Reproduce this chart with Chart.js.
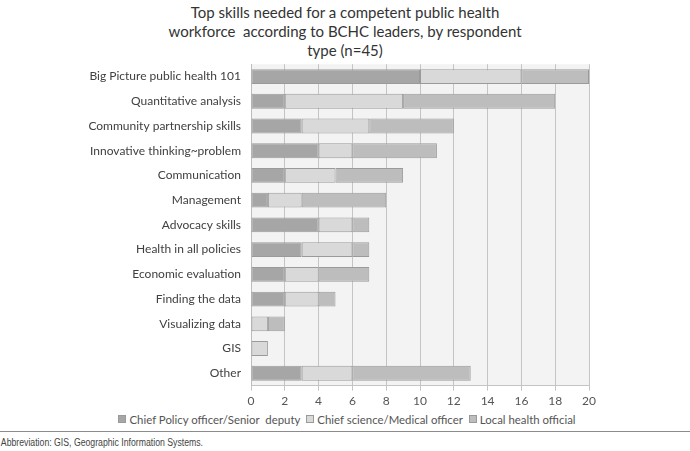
<!DOCTYPE html>
<html lang="en">
<head>
    <meta charset="UTF-8">
    <title>Top skills needed for a competent public health workforce</title>
    <script src="https://cdn.jsdelivr.net/npm/chart.js"></script>
    <style>
        body { margin: 0; background: #fff; width: 690px; height: 451px; overflow: hidden; font-family: Lato, sans-serif; }
        .title {
            height: 60px; padding-top: 3px; box-sizing: border-box;
            text-align: center; font-size: 15px; line-height: 19px; color: #333;
        }
        .chart-box { position: relative; width: 690px; height: 364px; margin-top: -13px; }
        .legend {
            height: 20px; padding-bottom: 4px; display: flex; justify-content: center; align-items: center;
            font-size: 11.4px; color: #555; padding-left: 4px; box-sizing: border-box;
        }
        .legend span.item { display: flex; align-items: center; margin: 0 3px; }
        .legend i { display: inline-block; width: 6px; height: 6px; margin-right: 3px; border: 1px solid #9a9a9a; }
        .rule { border-top: 1px solid #8c8c8c; width: 690px; }
        .note {
            font-family: "Liberation Sans", sans-serif; font-size: 10px; color: #444;
            padding: 5px 0 0 1px; transform: scaleX(0.87); transform-origin: left;
            white-space: nowrap;
        }
    </style>
</head>
<body>
    <div class="title">Top skills needed for a competent public health<br>workforce&nbsp; according to BCHC leaders, by respondent<br>type (n=45)</div>
    <div class="chart-box"><canvas id="skillsChart"></canvas></div>
    <div class="legend" id="legend"></div>
    <div class="rule"></div>
    <div class="note">Abbreviation: GIS, Geographic Information Systems.</div>

    <script>
        const skills = [
            'Big Picture public health 101', 'Quantitative analysis', 'Community partnership skills',
            'Innovative thinking~problem', 'Communication', 'Management', 'Advocacy skills',
            'Health in all policies', 'Economic evaluation', 'Finding the data', 'Visualizing data',
            'GIS', 'Other'
        ];
        const chiefPolicy = [10, 2, 3, 4, 2, 1, 4, 3, 2, 2, 0, 0, 3];
        const chiefScience = [6, 7, 4, 2, 3, 2, 2, 3, 2, 2, 1, 1, 3];
        const localOfficial = [4, 9, 5, 5, 4, 5, 1, 1, 3, 1, 1, 0, 7];
        const xTicks = [0, 2, 4, 6, 8, 10, 12, 14, 16, 18, 20];

        // fond gris de la zone de tracé
        const plotBg = {
            id: 'plotBg',
            beforeDraw(chart) {
                const { ctx, chartArea: a } = chart;
                ctx.save();
                ctx.fillStyle = '#f3f3f3';
                ctx.fillRect(a.left, a.top, a.right - a.left, a.bottom - a.top);
                ctx.restore();
            }
        };

        const ds = (label, data, color) => ({
            label, data,
            backgroundColor: color,
            borderColor: '#9a9a9a',
            borderWidth: 1,
            borderSkipped: false,
            barPercentage: 0.6,
            categoryPercentage: 1
        });

        const chart = new Chart(document.getElementById('skillsChart'), {
            type: 'bar',
            data: {
                labels: skills,
                datasets: [
                    ds('Chief Policy officer/Senior  deputy', chiefPolicy, '#a6a6a6'),
                    ds('Chief science/Medical officer', chiefScience, '#d9d9d9'),
                    ds('Local health official', localOfficial, '#bdbdbd')
                ]
            },
            options: {
                indexAxis: 'y',
                responsive: true,
                maintainAspectRatio: false,
                animation: false,
                layout: { padding: { left: 0, right: 101, top: 7, bottom: 0 } },
                plugins: {
                    legend: { display: false },
                    tooltip: { enabled: false }
                },
                scales: {
                    x: {
                        stacked: true,
                        min: xTicks[0],
                        max: xTicks[xTicks.length - 1],
                        grid: { display: true, drawOnChartArea: true, color: '#c4c4c4', lineWidth: 1, tickLength: 5 },
                        border: { color: '#c4c4c4' },
                        ticks: { stepSize: xTicks[1] - xTicks[0], color: '#555', font: { family: 'Lato', size: 12 }, padding: 3 }
                    },
                    y: {
                        stacked: true,
                        afterFit: s => { s.width = 251; },
                        grid: { display: false, drawTicks: false },
                        border: { color: '#bdbdbd' },
                        ticks: { color: '#404040', font: { family: 'Lato', size: 12 }, padding: 10, autoSkip: false }
                    }
                }
            },
            plugins: [plotBg]
        });

        // légende en HTML, centrée sur la page
        const legend = document.getElementById('legend');
        chart.data.datasets.forEach(d => {
            const item = document.createElement('span');
            item.className = 'item';
            item.innerHTML = '<i style="background:' + d.backgroundColor + '"></i>' + d.label.replace('  ', '&nbsp; ');
            legend.appendChild(item);
        });
    </script>
</body>
</html>
